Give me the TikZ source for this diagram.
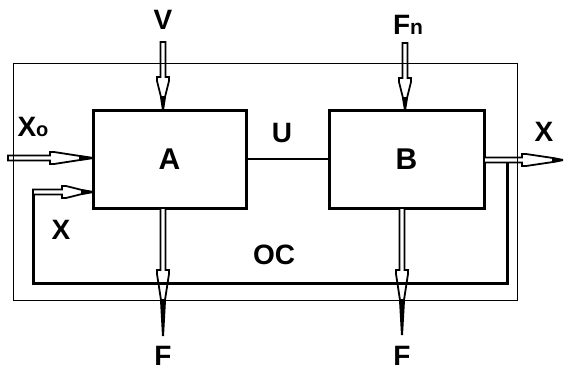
\documentclass[tikz,border=0pt]{standalone}
\usepackage{fontspec}
\setmainfont{Liberation Sans}
\usetikzlibrary{calc}

\newcommand{\flowarrow}[4]{%
  \coordinate (fs) at (#1);
  \coordinate (fe) at (#2);
  \coordinate (fh) at ($(fe)!#3!(fs)$);
  \coordinate (fk) at ($(fh)!4pt!(fe)$);
  \coordinate (ft) at ($(fe)!#4!(fs)$);
  \draw[flow] ($(fs)!2.5pt!90:(fe)$) -- ($(fh)!2.5pt!90:(fe)$) -- ($(fh)!6pt!90:(fe)$)
    -- ($(fk)!6pt!90:(fe)$) -- ($(ft)!2pt!90:(fe)$) -- ($(ft)!2pt!-90:(fe)$)
    -- ($(fk)!6pt!-90:(fe)$) -- ($(fh)!6pt!-90:(fe)$) -- ($(fh)!2.5pt!-90:(fe)$)
    -- ($(fs)!2.5pt!-90:(fe)$) -- cycle;
  \fill ($(ft)!3pt!90:(fe)$) -- ($(fe)!1pt!-90:(fs)$) -- ($(fe)!1pt!90:(fs)$)
    -- ($(ft)!3pt!-90:(fe)$) -- cycle;
}

\begin{document}
\begin{tikzpicture}[
    x=1pt, y=-1pt,
    every node/.style={font=\bfseries\fontsize{28}{28}\selectfont, inner sep=0pt},
    blk/.style={draw, line width=3pt, outer sep=0pt, minimum height=98pt,
        font=\bfseries\fontsize{30}{30}\selectfont},
    flow/.style={draw, fill=white, line width=1.8pt},
    loop/.style={line width=3pt},
    frame/.style={line width=1pt}
]
\useasboundingbox (0,0) rectangle (565,370);
\node[blk, minimum width=153pt] (A) at (169.5,159) {A};
\node[blk, minimum width=155pt] (B) at (406.5,159) {B};

\coordinate (vin) at (163,42);
\coordinate (fnin) at (405,43);
\coordinate (xin) at (8,158);
\coordinate (xout) at (563,160);
\coordinate (fa) at (163,336);
\coordinate (fb) at (402,335);
\coordinate (br) at (507,163);
\coordinate (fb1) at (507,283);
\coordinate (fb2) at (33,283);
\coordinate (fb3) at (33,192);

\draw[line width=2.5pt] (A.east) -- (B.west);

\flowarrow{vin}{vin |- A.north}{33pt}{13pt}
\flowarrow{fnin}{fnin |- B.north}{32pt}{12pt}
\flowarrow{xin}{xin -| A.west}{43pt}{13pt}
\flowarrow{B.east |- xout}{xout}{41pt}{10pt}
\flowarrow{fa |- A.south}{fa}{66pt}{36pt}
\flowarrow{fb |- B.south}{fb}{65pt}{35pt}

\draw[frame] (13,63) rectangle (517,300);
\draw[loop] (br) -- (fb1) -- (fb2) -- (fb3);
\flowarrow{fb3}{fb3 -| A.west}{31pt}{11pt}

\node (vl) at (163,20) {V};
\node (fnl) at (408,25) {F{\fontsize{21}{21}\selectfont n}};
\node (xol) at (33,127) {X{\fontsize{20}{20}\selectfont o}};
\node (ul) at (282,133) {U};
\node (xl) at (544,132) {X};
\node (xfl) at (61,230) {X};
\node (ocl) at (274,255) {OC};
\node (fal) at (163,356) {F};
\node (fbl) at (402,356) {F};
\end{tikzpicture}
\end{document}
